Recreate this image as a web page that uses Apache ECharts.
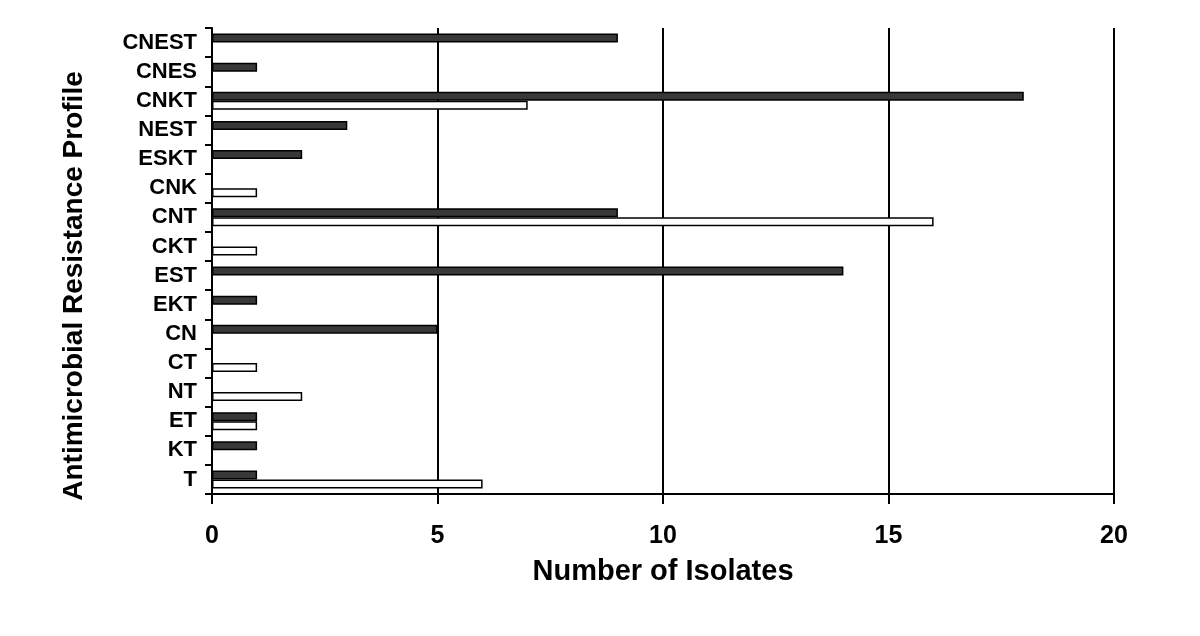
<!DOCTYPE html>
<html>
<head>
<meta charset="utf-8">
<script src="https://cdn.jsdelivr.net/npm/echarts@6/dist/echarts.min.js"></script>
<style>
  html, body { margin: 0; padding: 0; background: #fff; }
  #chart { width: 1200px; height: 636px; }
</style>
</head>
<body>
<div id="chart"></div>
<script>
// resistance profiles, top to bottom
var profiles = ['CNEST', 'CNES', 'CNKT', 'NEST', 'ESKT', 'CNK', 'CNT', 'CKT', 'EST', 'EKT', 'CN', 'CT', 'NT', 'ET', 'KT', 'T'];
// dark bars
var darkData = [9, 1, 18, 3, 2, null, 9, null, 14, 1, 5, null, null, 1, 1, 1];
// white bars
var whiteData = [null, null, 7, null, null, 1, 16, 1, null, null, null, 1, 2, 1, null, 6];
var xTicks = [0, 20, 5];  // min, max, interval

var font = 'Liberation Sans, Arial, sans-serif';

var chart = echarts.init(document.getElementById('chart'));
var option = {
    animation: false,
    grid: {
        left: 212,
        right: 86,
        top: 28,
        bottom: 142
    },
    xAxis: {
        type: 'value',
        min: xTicks[0],
        max: xTicks[1],
        interval: xTicks[2],
        name: 'Number of Isolates',
        nameLocation: 'middle',
        nameGap: 63,
        nameTextStyle: { fontFamily: font, fontWeight: 'bold', fontSize: 29, color: '#000' },
        axisLine: { show: true, lineStyle: { color: '#000', width: 2 } },
        axisTick: { show: true, length: 10, lineStyle: { color: '#000', width: 2 } },
        axisLabel: { margin: 30, fontFamily: font, fontWeight: 'bold', fontSize: 25, color: '#000' },
        splitLine: { show: true, lineStyle: { color: '#000', width: 2 } }
    },
    yAxis: {
        type: 'category',
        data: profiles,
        inverse: true,
        name: 'Antimicrobial Resistance Profile',
        nameLocation: 'middle',
        nameGap: 124,
        nameTextStyle: { fontFamily: font, fontWeight: 'bold', fontSize: 28, color: '#000', padding: [0, 50, 0, 0] },
        axisLine: { show: true, lineStyle: { color: '#000', width: 2 } },
        axisTick: { show: true, length: 7, lineStyle: { color: '#000', width: 2 } },
        axisLabel: { margin: 15, fontFamily: font, fontWeight: 'bold', fontSize: 22, color: '#000' },
        splitLine: { show: false }
    },
    series: [
        {
            name: 'dark',
            type: 'bar',
            data: darkData,
            barWidth: 9,
            barGap: '0%',
            itemStyle: { color: '#383838', borderColor: '#000', borderWidth: 1.5 }
        },
        {
            name: 'white',
            type: 'bar',
            data: whiteData,
            barWidth: 9,
            barGap: '0%',
            itemStyle: { color: '#fff', borderColor: '#000', borderWidth: 1.5 }
        }
    ]
};
chart.setOption(option);
</script>
</body>
</html>
